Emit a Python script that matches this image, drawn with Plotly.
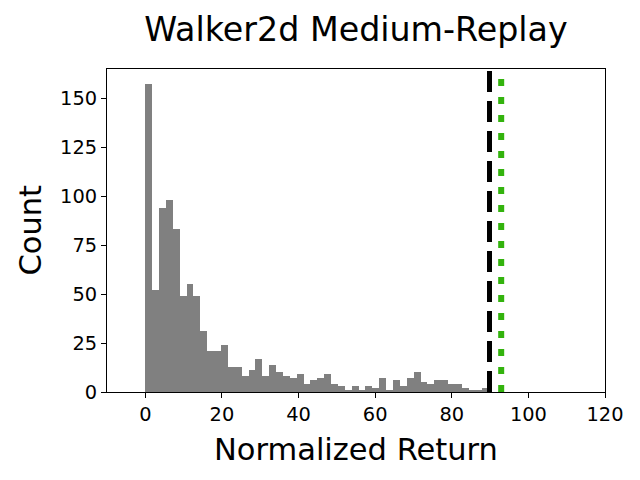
import plotly.graph_objects as go

# Histogram data (50 bins)
bin_start = 0.0
bin_width = 1.796
counts = [157, 52, 94, 98, 83, 49, 55, 49, 31, 21,
          21, 24, 13, 13, 8, 11, 17, 8, 14, 10,
          8, 7, 9, 4, 6, 7, 9, 4, 3, 1,
          3, 1, 3, 2, 7, 1, 6, 3, 7, 10,
          5, 4, 6, 6, 4, 4, 2, 1, 1, 2]
black_line_x = 89.85
green_line_x = 92.9
x_ticks = [0, 20, 40, 60, 80, 100, 120]
y_ticks = [0, 25, 50, 75, 100, 125, 150]

centers = [bin_start + bin_width * (i + 0.5) for i in range(len(counts))]

fig = go.Figure()
fig.add_trace(go.Bar(x=centers, y=counts, width=[bin_width] * len(counts),
                     marker=dict(color="#808080", line=dict(width=0)),
                     showlegend=False))

fig.add_shape(type="line", x0=black_line_x, x1=black_line_x, y0=0, y1=1,
              xref="x", yref="paper", layer="above",
              line=dict(color="black", width=5, dash="21px,9px"))
fig.add_shape(type="line", x0=green_line_x, x1=green_line_x, y0=0, y1=1,
              xref="x", yref="paper", layer="above",
              line=dict(color="#33b30d", width=6, dash="7px,11px"))

font = "DejaVu Sans"
# page body has an 8px offset; margins compensate so the plot area lands at x 107-605, y 69-392
fig.update_layout(
    width=640, height=480,
    margin=dict(l=99, r=43, t=61, b=96),
    paper_bgcolor="white", plot_bgcolor="white",
    bargap=0,
    font=dict(family=font, color="black"),
    title=dict(text="Walker2d Medium-Replay", x=0.5, xref="paper",
               y=1 - 21 / 480, yref="container", yanchor="middle",
               font=dict(size=33.3, family=font, color="black")),
    xaxis=dict(range=[-10, 120], tickvals=x_ticks, ticks="outside", ticklen=5,
               tickwidth=1, tickcolor="black", showline=True, linecolor="black",
               linewidth=1, mirror=True, showgrid=False, zeroline=False,
               tickfont=dict(size=19.4, family=font, color="black")),
    yaxis=dict(range=[0, 164.85], tickvals=y_ticks, ticks="outside", ticklen=5,
               tickwidth=1, tickcolor="black", showline=True, linecolor="black",
               linewidth=1, mirror=True, showgrid=False, zeroline=False,
               tickfont=dict(size=19.4, family=font, color="black")),
    annotations=[
        dict(text="Normalized Return", x=0.5, xref="paper", y=-57 / 323, yref="paper",
             xanchor="center", yanchor="middle", showarrow=False,
             font=dict(size=30.5, family=font, color="black")),
        dict(text="Count", x=(30 - 107) / 498, xref="paper", y=0.5, yref="paper",
             xanchor="center", yanchor="middle", textangle=-90, showarrow=False,
             font=dict(size=30.5, family=font, color="black")),
    ],
)

fig.write_html("out.html")
